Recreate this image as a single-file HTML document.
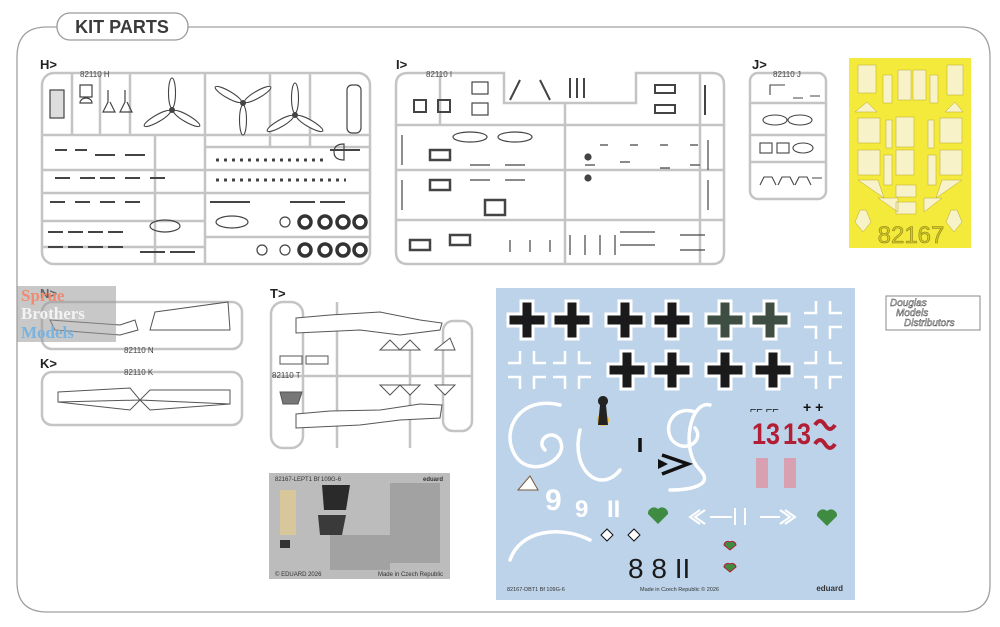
<!DOCTYPE html>
<html><head><meta charset="utf-8"><style>
html,body{margin:0;padding:0;background:#fff;}
svg{display:block;font-family:"Liberation Sans",sans-serif;}
</style></head><body>
<svg width="1000" height="627" viewBox="0 0 1000 627" xmlns="http://www.w3.org/2000/svg">
<defs>
<g id="bk"><path d="M-6,-19h12v13h13v12h-13v13h-12v-13h-13v-12h13z" stroke="#fff" stroke-width="3"/></g>
<g id="wk" fill="none" stroke="#fff" stroke-width="2.5"><path d="M-7,-19v12h-12M7,-19v12h12M-7,19v-12h-12M7,19v-12h12"/></g>
<g id="blade"><ellipse cx="0" cy="-17" rx="3.5" ry="15" fill="#fff" stroke="#444" stroke-width="1.1"/></g>
<g id="prop"><use href="#blade"/><use href="#blade" transform="rotate(120)"/><use href="#blade" transform="rotate(240)"/><circle r="3" fill="#444"/></g>
<g id="tire"><circle r="6" fill="none" stroke="#333" stroke-width="3.5"/></g>
</defs>
<!-- outer frame -->
<path d="M60,27 H960 Q990,27 990,57 V585 Q990,612 960,612 H47 Q17,612 17,582 V57 Q17,27 47,27 Z" fill="none" stroke="#a0a0a0" stroke-width="1.3"/>
<rect x="57" y="13" width="131" height="27" rx="13" fill="#fff" stroke="#9a9a9a" stroke-width="1.3"/>
<text x="122" y="33" text-anchor="middle" font-size="18" font-weight="bold" fill="#3a3a3a">KIT PARTS</text>

<g fill="#222" font-weight="bold" font-size="13">
<text x="40" y="69">H&gt;</text><text x="396" y="69">I&gt;</text><text x="752" y="69">J&gt;</text>
<text x="40" y="298">N&gt;</text><text x="40" y="368">K&gt;</text><text x="270" y="298">T&gt;</text>
</g>

<g fill="none" stroke="#c4c4c4" stroke-width="2.5">
<rect x="42" y="73" width="328" height="191" rx="12"/>
<path d="M42,135H370M42,170H370M42,193H370M205,73V264M205,147H370M205,237H370M42,221H205M42,247H205M72,73V135M100,73V135M130,73V135M155,135V264M270,73V147M310,73V147"/>
<path d="M408,73H504V103H636V73H712Q724,73 724,85V252Q724,264 712,264H408Q396,264 396,252V85Q396,73 408,73Z"/>
<path d="M396,125H724M396,170H724M396,220H724M565,103V264M700,73V264M440,73V125"/>
<rect x="750" y="73" width="76" height="126" rx="8"/>
<path d="M750,103H826M750,135H826M750,162H826"/>
<rect x="42" y="302" width="200" height="47" rx="10"/>
<rect x="42" y="372" width="200" height="53" rx="10"/>
<rect x="271" y="302" width="32" height="146" rx="12"/>
<rect x="443" y="321" width="29" height="110" rx="10"/>
<path d="M271,376H472M337,302V448M410,350V448"/>
</g>
<g font-size="8" fill="#444">
<text x="80" y="77">82110 H</text><text x="426" y="77">82110 I</text><text x="773" y="77">82110 J</text>
<text x="124" y="353">82110 N</text><text x="124" y="375">82110 K</text><text x="272" y="378">82110 T</text>
</g>
<!-- H parts -->
<use href="#prop" x="172" y="110"/>
<use href="#prop" x="243" y="103" transform="rotate(180 243 103)"/>
<use href="#prop" x="295" y="115"/>
<g fill="none" stroke="#444" stroke-width="1.2">
<rect x="50" y="90" width="14" height="28" fill="#ddd"/>
<path d="M80,85h12v12h-12zM80,103a6,5 0 0 1 12,0z"/>
<path d="M108,90v12l-5,10h12l-5,-10M125,90v12l-5,10h12l-5,-10"/>
<rect x="347" y="85" width="14" height="48" rx="5"/>
<ellipse cx="165" cy="226" rx="15" ry="6"/><ellipse cx="232" cy="222" rx="16" ry="6"/>
<circle cx="285" cy="222" r="5"/><circle cx="285" cy="250" r="5"/><circle cx="262" cy="250" r="5"/>
<path d="M334,152q0,-8 10,-8v16q-10,0 -10,-8z"/>
</g>
<g><use href="#tire" x="305" y="222"/><use href="#tire" x="325" y="222"/><use href="#tire" x="343" y="222"/><use href="#tire" x="360" y="222"/>
<use href="#tire" x="305" y="250"/><use href="#tire" x="325" y="250"/><use href="#tire" x="343" y="250"/><use href="#tire" x="360" y="250"/></g>
<g fill="none" stroke="#444" stroke-width="2">
<path d="M55,150h12M75,150h12M95,155h20M125,155h20M55,178h15M80,178h15M100,178h15M125,178h15M150,178h15M50,202h15M75,202h15M100,202h15M125,202h15M48,232h15M68,232h15M88,232h15M108,232h15M48,247h15M68,247h15M88,247h15M108,247h15M140,252h25M170,252h25M210,202h40M290,202h25M320,202h25M330,150h30"/>
<path d="M216,160h110M216,180h130" stroke-dasharray="3,5" stroke-width="3"/>
</g>
<!-- I parts -->
<g fill="none" stroke="#444" stroke-width="1.2">
<rect x="414" y="100" width="12" height="12" stroke-width="2"/><rect x="438" y="100" width="12" height="12" stroke-width="2"/><rect x="472" y="82" width="16" height="12"/><rect x="472" y="103" width="16" height="12"/>
<ellipse cx="470" cy="137" rx="17" ry="5"/><ellipse cx="515" cy="137" rx="17" ry="5"/>
<path d="M520,80l-10,20M540,80l10,20M570,78v20M577,78v20M584,78v20M655,85h20v8h-20zM655,105h20v8h-20zM705,85v30" stroke-width="2"/>
<path d="M402,135v30M402,180v30M708,140v30M708,180v30"/>
<path d="M430,150h20v10h-20zM430,180h20v10h-20zM485,200h20v15h-20zM410,240h20v10h-20zM450,235h20v10h-20z" stroke-width="2.5"/>
<path d="M470,165h20M505,165h20M470,180h20M505,180h20M510,240v12M530,240v12M550,240v12M570,235v20M585,235v20M600,235v20M615,235v20M620,232h35M620,245h35M680,235h25M680,250h25M620,162h10M660,168h10M690,165h10M585,165h10M600,145h8M630,145h8M660,145h8M690,145h8"/>
<circle cx="588" cy="157" r="3" fill="#444"/><circle cx="588" cy="178" r="3" fill="#444"/>
</g>
<!-- J parts -->
<g fill="none" stroke="#444" stroke-width="1.1">
<path d="M770,95v-10h15M793,98h10M810,96h10"/>
<ellipse cx="775" cy="120" rx="12" ry="5"/><ellipse cx="800" cy="120" rx="12" ry="5"/>
<rect x="760" y="143" width="12" height="10"/><rect x="777" y="143" width="12" height="10"/><ellipse cx="803" cy="148" rx="10" ry="5"/>
<path d="M760,185l4,-8h8l4,8M778,185l4,-8h8l4,8M795,185l4,-8h8l4,8M812,178h10"/>
</g>
<!-- mask -->
<rect x="849" y="58" width="122" height="190" fill="#f4ea3c"/>
<g fill="#f7f2c8" stroke="#b8a830" stroke-width="0.5">
<path d="M858,65h18v28h-18zM947,65h16v30h-16zM883,75h9v28h-9zM898,70h13v30h-13zM913,70h13v30h-13zM930,75h8v28h-8zM855,112h22l-10,-10zM945,112h18l-8,-10z"/>
<rect x="858" y="118" width="22" height="25"/><rect x="896" y="117" width="18" height="30"/><rect x="940" y="118" width="22" height="25"/>
<rect x="858" y="150" width="22" height="25"/><rect x="896" y="150" width="18" height="25"/><rect x="940" y="150" width="22" height="25"/>
<rect x="886" y="120" width="6" height="28"/><rect x="928" y="120" width="6" height="28"/>
<rect x="884" y="155" width="8" height="30"/><rect x="928" y="155" width="8" height="30"/>
<path d="M858,180h20l6,18zM942,180h20l-26,18zM896,185h20v12h-20zM878,198h20v14zM924,198h18l-18,14zM896,202h20v12h-20z"/>
<path d="M860,210l-5,12 8,10 8,-10 -5,-12zM951,210l-5,12 8,10 8,-10 -5,-12z"/>
</g>
<text x="911" y="243" text-anchor="middle" font-size="24" fill="#d4c820" stroke="#8e8520" stroke-width="0.6">82167</text>

<!-- N/K/T parts -->
<g fill="#fff" stroke="#555" stroke-width="1">
<path d="M50,320 L120,325 L135,320 L138,330 L120,335 L55,330 Z"/>
<path d="M155,312 L228,302 L230,330 L150,330 Z"/>
<path d="M58,392 L130,388 L140,400 L58,402 Z M230,390 L150,390 L140,400 L230,404 Z M58,402 L130,410 L140,400 M230,404 L150,410 L140,400" />
<path d="M296,318 L330,315 L380,312 L420,320 L442,323 L440,330 L400,335 L360,330 L296,333 Z"/>
<path d="M296,414 L330,411 L380,410 L420,404 L442,405 L440,418 L400,420 L360,425 L296,428 Z"/>
<path d="M380,350h20l-10,-10zM400,350h20l-10,-10zM435,350h20l-5,-12zM380,385h20l-10,10zM400,385h20l-10,10zM435,385h20l-10,10z"/>
<rect x="280" y="356" width="22" height="8"/><rect x="306" y="356" width="22" height="8"/>
<path d="M280,392h22l-4,12h-15z" fill="#777"/>
</g>
<rect x="17" y="286" width="99" height="56" fill="#9a9a9a" opacity="0.55"/>
<g font-family="Liberation Serif,serif" font-weight="bold" font-size="17">
<text x="21" y="301" fill="#ee8b70">Sprue</text><text x="21" y="319" fill="#f3f3f3">Brothers</text><text x="21" y="338" fill="#79b3e0">Models</text></g>

<!-- PE fret -->
<rect x="269" y="473" width="181" height="106" fill="#bcbcbc"/>
<g fill="#888"><rect x="390" y="483" width="50" height="80" opacity="0.5"/><rect x="330" y="535" width="60" height="35" opacity="0.5"/><rect x="280" y="490" width="16" height="45" fill="#d8c79a"/></g>
<path d="M322,485h28l-4,25h-22z" fill="#2a2a2a"/><path d="M318,515h28l-4,20h-22z" fill="#3a3a3a"/>
<rect x="280" y="540" width="10" height="8" fill="#333"/>
<text x="275" y="481" font-size="6" fill="#333">82167-LEPT1 Bf 109G-6</text>
<text x="443" y="481" font-size="6" fill="#333" text-anchor="end" font-weight="bold">eduard</text>
<text x="275" y="576" font-size="6" fill="#333">© EDUARD 2026</text>
<text x="443" y="576" font-size="6" fill="#333" text-anchor="end">Made in Czech Republic</text>

<!-- decal sheet -->
<rect x="496" y="288" width="359" height="312" fill="#bcd3e9"/>
<g fill="#1a1a1a">
<use href="#bk" x="527" y="320"/><use href="#bk" x="572" y="320"/><use href="#bk" x="625" y="320"/><use href="#bk" x="672" y="320"/>
<use href="#bk" x="725" y="320" fill="#3f4e42"/><use href="#bk" x="770" y="320" fill="#3f4e42"/>
<use href="#bk" x="627" y="370"/><use href="#bk" x="672" y="370"/><use href="#bk" x="725" y="370"/><use href="#bk" x="773" y="370"/>
</g>
<use href="#wk" x="823" y="320"/><use href="#wk" x="527" y="370"/><use href="#wk" x="572" y="370"/><use href="#wk" x="823" y="370"/>
<g fill="none" stroke="#fff" stroke-width="3.5" stroke-linecap="round">
<path d="M560,405 C520,395 500,430 515,455 C530,480 570,460 560,440 C552,428 535,440 545,450"/>
<path d="M580,430 C570,470 600,495 620,470"/>
<path d="M695,412 C675,405 662,425 672,440 C685,455 705,440 695,428 M710,405 C690,400 680,450 700,470 C715,485 690,490 670,490"/>
<path d="M590,540 C560,525 520,530 510,560"/>
</g>
<g font-weight="bold">
<text x="545" y="510" font-size="30" fill="#fff">9</text>
<text x="575" y="517" font-size="24" fill="#fff">9</text>
<text x="607" y="517" font-size="24" fill="#fff">II</text>
<text x="752" y="444" font-size="30" fill="#b21e34" textLength="28" lengthAdjust="spacingAndGlyphs">13</text>
<text x="783" y="444" font-size="30" fill="#b21e34" textLength="28" lengthAdjust="spacingAndGlyphs">13</text>
<text x="628" y="578" font-size="28" fill="#1a1a1a" font-weight="normal">8 8 II</text>
<text x="750" y="413" font-size="11" fill="#111">⌐⌐ ⌐⌐</text>
<text x="803" y="412" font-size="14" fill="#111">+ +</text>
</g>
<path d="M815,425 q5,-8 10,0 t10,0 M815,444 q5,-8 10,0 t10,0" stroke="#b21e34" stroke-width="4" fill="none"/>
<path d="M640,452v-14M662,455l26,9 -26,10" stroke="#111" stroke-width="3.5" fill="none"/>
<path d="M658,459l10,5 -10,5z" fill="#111"/>
<g fill="#3f8b42">
<path d="M658,524 l-10,-10 a6,6 0 0 1 10,-5 a6,6 0 0 1 10,5z"/>
<path d="M827,526 l-10,-10 a6,6 0 0 1 10,-5 a6,6 0 0 1 10,5z"/>
</g>
<g fill="none" stroke="#fff" stroke-width="2"><path d="M700,510l-10,7 10,7M705,510l-10,7 10,7M710,517h22M735,508v17M745,508v17M760,517h20M785,510l10,7-10,7M780,510l10,7-10,7"/></g>
<rect x="756" y="458" width="12" height="30" fill="#d8a0b0"/><rect x="784" y="458" width="12" height="30" fill="#d8a0b0"/>
<g fill="#f2c030"><circle cx="603" cy="420" r="6"/></g>
<path d="M600,405 a5,5 0 1 1 6,0 l2,20 h-10z" fill="#222"/>
<path d="M518,490 l12,-14 8,14z" fill="#fff" stroke="#7a5a3a"/>
<g fill="#fff" stroke="#111" stroke-width="1"><path d="M601,535l6,-6 6,6-6,6z"/><path d="M628,535l6,-6 6,6-6,6z"/></g>
<path d="M730,550l-6,-5a4,4 0 0 1 6,-3a4,4 0 0 1 6,3z M730,572l-6,-5a4,4 0 0 1 6,-3a4,4 0 0 1 6,3z" fill="#3f8b42" stroke="#b21e34"/>
<text x="507" y="591" font-size="5.5" fill="#333">82167-DBT1 Bf 109G-6</text>
<text x="640" y="591" font-size="5.5" fill="#333">Made in Czech Republic   © 2026</text>
<text x="843" y="591" font-size="8" fill="#333" text-anchor="end" font-weight="bold">eduard</text>

<rect x="886" y="296" width="94" height="34" fill="#fff" stroke="#888"/>
<g font-style="italic" font-size="10" fill="#fff" stroke="#555" stroke-width="0.5">
<text x="890" y="306">Douglas</text><text x="896" y="316">Models</text><text x="904" y="326">Distributors</text></g>
</svg>
</body></html>
